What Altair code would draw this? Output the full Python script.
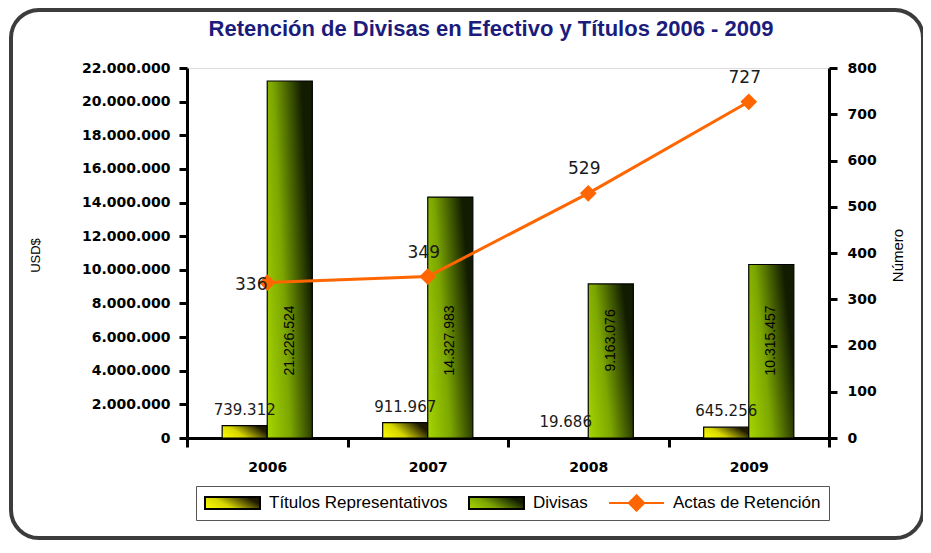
import altair as alt
import pandas as pd

# ---------------- data ----------------
years = ["2006", "2007", "2008", "2009"]
titulos = [739312, 911967, 19686, 645256]
divisas = [21226524, 14327983, 9163076, 10315457]
actas = [336, 349, 529, 727]
series = ["Títulos Representativos", "Divisas", "Actas de Retención"]
left_ticks = list(range(0, 22000001, 2000000))
right_ticks = list(range(0, 801, 100))


def fmt(v):
    return f"{v:,}".replace(",", ".")


bars_df = pd.DataFrame({
    "year": years * 2,
    "serie": [series[0]] * 4 + [series[1]] * 4,
    "value": titulos + divisas,
})
bars_df["label"] = bars_df["value"].map(fmt)

act_df = pd.DataFrame({"year": years, "serie": [series[2]] * 4, "actas": actas})
act_df["label"] = act_df["actas"].astype(str)

# ---------------- styles ----------------
Y_STOPS = [(0, "#ffff00"), (0.45, "#d6d600"), (1, "#1f1a00")]
G_STOPS = [(0, "#a6d600"), (0.45, "#7ca600"), (1, "#121c00")]
ORANGE = "#ff6600"


def grad(stops):
    return alt.Gradient(gradient="linear", x1=0, y1=1, x2=1, y2=0.6,
                        stops=[alt.GradientStop(offset=o, color=c) for o, c in stops])


def grad_expr(stops):
    s = ",".join("{'offset':%s,'color':'%s'}" % (o, c) for o, c in stops)
    return "{'gradient':'linear','x1':0,'y1':1,'x2':1,'y2':0.6,'stops':[" + s + "]}"


AX = dict(labelFont="DejaVu Sans", labelFontWeight="bold", labelFontSize=14,
          labelColor="#000", domainColor="#000", domainWidth=3,
          tickColor="#000", tickWidth=3, grid=False, labelOverlap=False, tickCount=30)

x_enc = alt.X("year:N", sort=years,
              scale=alt.Scale(paddingInner=0, paddingOuter=0),
              axis=alt.Axis(title=None, labelAngle=0, labelPadding=13, tickSize=9,
                            tickBand="extent", **AX))
x_off = alt.XOffset("serie:N", sort=series[:2],
                    scale=alt.Scale(domain=series[:2], paddingInner=0, paddingOuter=0.78))

left_axis = alt.Axis(title="USD$", values=left_ticks,
                     labelExpr="replace(format(datum.value, ','), regexp(',', 'g'), '.')",
                     labelPadding=9, tickSize=8,
                     titleFont="Liberation Sans", titleFontSize=13, titleFontWeight="normal",
                     titleColor="#000", titleAngle=270, titleX=-152, titleY=187,
                     titleAlign="center", titleBaseline="middle", **AX)
y_left = alt.Y("value:Q", scale=alt.Scale(domain=[0, 22000000], nice=False), axis=left_axis)

y_right = alt.Y("actas:Q", scale=alt.Scale(domain=[0, 800], nice=False),
                axis=alt.Axis(orient="right", title="Número", values=right_ticks,
                              labelPadding=10, tickSize=8,
                              titleFont="Liberation Sans", titleFontSize=15, titleFontWeight="normal",
                              titleColor="#000", titleAngle=270, titleX=68, titleY=187,
                              titleAlign="center", titleBaseline="middle", **AX))

IS_LINE = "datum.value === 'Actas de Retención'"
SHAPE_EXPR = f"{IS_LINE} ? 'M-1,0H1M0,-0.28L0.28,0L0,0.28L-0.28,0Z' : 'M-1,-0.22H1V0.22H-1Z'"
STROKE_EXPR = f"{IS_LINE} ? '{ORANGE}' : '#000000'"

legend = alt.Legend(
    title=None, orient="none", legendX=9, legendY=418, direction="horizontal",
    strokeColor="#555", fillColor="#ffffff", padding=8, columnPadding=20,
    labelFont="Liberation Sans", labelFontSize=17, labelColor="#000", labelOffset=8,
    labelLimit=400,
    symbolSize=3025, clipHeight=18, symbolStrokeWidth=2,
    symbolType=alt.ExprRef(expr=SHAPE_EXPR),
    symbolStrokeColor=alt.ExprRef(expr=STROKE_EXPR))

color_scale = alt.Scale(domain=series, range=[alt.ExprRef(expr=grad_expr(Y_STOPS)),
                                              alt.ExprRef(expr=grad_expr(G_STOPS)), ORANGE])

# ---------------- layers ----------------
frame = alt.Chart(pd.DataFrame({"f": [0]})).mark_rect(
    fill="#ffffff", fillOpacity=0, stroke="#3c3c3c", strokeWidth=4, cornerRadius=28
).encode(x=alt.value(-176), x2=alt.value(736), y=alt.value(-58), y2=alt.value(470))

base_b = alt.Chart(bars_df)
bar_t = base_b.transform_filter(alt.datum.serie == series[0]).mark_bar(
    fill=grad(Y_STOPS), stroke="#000", strokeWidth=1.2).encode(x=x_enc, xOffset=x_off, y=y_left)
bar_d = base_b.transform_filter(alt.datum.serie == series[1]).mark_bar(
    fill=grad(G_STOPS), stroke="#000", strokeWidth=1.2).encode(x=x_enc, xOffset=x_off, y=y_left)
lab_t = base_b.transform_filter(alt.datum.serie == series[0]).mark_text(
    baseline="bottom", dy=-8, font="DejaVu Sans", fontSize=15, color="#1a1a1a"
).encode(x=x_enc, xOffset=x_off, y=y_left, text="label:N")
lab_d = base_b.transform_filter(alt.datum.serie == series[1]).mark_text(
    angle=270, align="center", baseline="middle", font="Liberation Sans", fontSize=14, color="#000"
).encode(x=x_enc, xOffset=x_off,
         y=alt.YDatum(5800000, type="quantitative", axis=left_axis), text="label:N")

bars = alt.layer(bar_t, bar_d, lab_t, lab_d)

base_a = alt.Chart(act_df)
line = base_a.mark_line(color=ORANGE, strokeWidth=3).encode(x=x_enc, y=y_right)
pts = base_a.mark_point(shape="diamond", filled=True, size=280, opacity=1).encode(
    x=x_enc, y=y_right,
    color=alt.Color("serie:N", scale=color_scale, legend=legend))
lab_a = base_a.mark_text(
    dx=alt.ExprRef(expr="datum.year === '2006' ? -16 : -4"),
    dy=alt.ExprRef(expr="datum.year === '2006' ? 2 : -24"),
    font="DejaVu Sans", fontSize=17, color="#1a1a1a").encode(
    x=x_enc, y=y_right, text="label:N")

lines = alt.layer(line, pts, lab_a)

chart = alt.layer(frame, bars, lines).resolve_scale(y="independent").properties(
    width=642, height=370,
    autosize=alt.AutoSizeParams(type="none"),
    padding={"left": 179, "top": 60, "right": 94, "bottom": 102},
    title=alt.Title("Retención de Divisas en Efectivo y Títulos 2006 - 2009",
                    font="Liberation Sans", fontSize=22, fontWeight="bold", color="#1c1c7c",
                    offset=26, dx=-17, dy=59, anchor="middle"),
).configure_view(fill="#c0c0c0", stroke="#8a8a8a", strokeWidth=1).configure(background="#ffffff")

chart.save("out.html", embed_options={"renderer": "svg", "actions": False})
